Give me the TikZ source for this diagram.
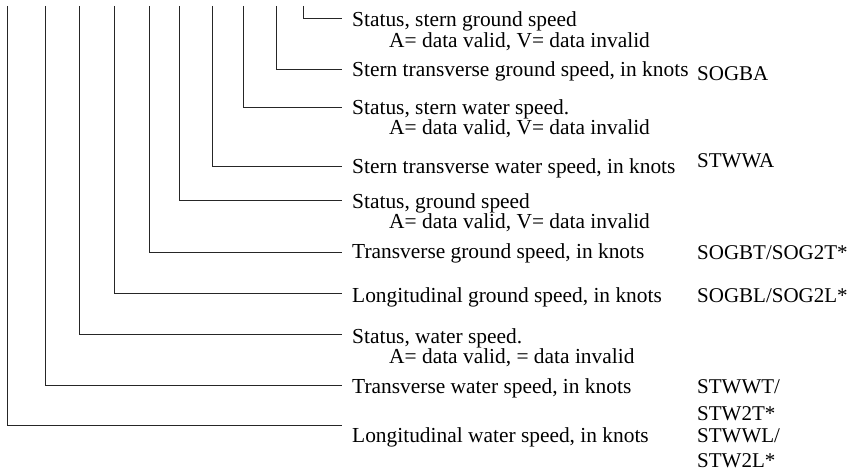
\documentclass[tikz,border=0pt]{standalone}
\usepackage{fontspec}
\setmainfont{Liberation Serif}
\usepackage{tikz}
\usetikzlibrary{positioning}
\usetikzlibrary{calc}

\begin{document}
\begin{tikzpicture}[x=1pt,y=-1pt]
\tikzstyle{desc} =[anchor=base west,inner sep=0pt,font=\fontsize{21.4}{22}\selectfont]
\tikzstyle{code} =[anchor=base west,inner sep=0pt,font=\fontsize{21}{22}\selectfont]
\tikzstyle{wire} =[draw=black!85,line width=0.9pt]
\useasboundingbox (0,0) rectangle (858,470);

% field descriptions
\node[desc](sgstat) at (352,27){Status, stern ground speed};
\node[desc](sgstatv) at (389,48){A= data valid, V= data invalid};
\node[desc](sgtrans) at (352,77){Stern transverse ground speed, in knots};
\node[desc](swstat) at (352,115){Status, stern water speed.};
\node[desc](swstatv) at (389,135){A= data valid, V= data invalid};
\node[desc](swtrans) at (352,174){Stern transverse water speed, in knots};
\node[desc](gstat) at (352,208){Status, ground speed};
\node[desc](gstatv) at (389,228){A= data valid, V= data invalid};
\node[desc](gtrans) at (352,258){Transverse ground speed, in knots};
\node[desc](glong) at (352,302){Longitudinal ground speed, in knots};
\node[desc](wstat) at (352,343){Status, water speed.};
\node[desc](wstatv) at (389,363){A= data valid, = data invalid};
\node[desc](wtrans) at (352,393){Transverse water speed, in knots};
\node[desc](wlong) at (352,442){Longitudinal water speed, in knots};

% sentence names
\node[code](sogba) at (697,81){SOGBA};
\node[code](stwwa) at (697,168){STWWA};
\node[code](sogbt) at (697,259){SOGBT/SOG2T*};
\node[code](sogbl) at (697,302){SOGBL/SOG2L*};
\node[code](stwwt) at (697,393){STWWT/};
\node[code](stw2t) at (697,420){STW2T*};
\node[code](stwwl) at (697,442){STWWL/};
\node[code](stw2l) at (697,467){STW2L*};

% leader lines
\coordinate (f1) at (303,6);
\coordinate (f2) at (276,6);
\coordinate (f3) at (243,6);
\coordinate (f4) at (212,6);
\coordinate (f5) at (179,6);
\coordinate (f6) at (149,6);
\coordinate (f7) at (114,6);
\coordinate (f8) at (79,6);
\coordinate (f9) at (45,6);
\coordinate (f10) at (7,6);

\draw[wire] (f1) |- ($(sgstat.base west)+(-10,-9)$);
\draw[wire] (f2) |- ($(sgtrans.base west)+(-10,-8)$);
\draw[wire] (f3) |- ($(swstat.base west)+(-10,-8)$);
\draw[wire] (f4) |- ($(swtrans.base west)+(-10,-8)$);
\draw[wire] (f5) |- ($(gstat.base west)+(-10,-8)$);
\draw[wire] (f6) |- ($(gtrans.base west)+(-10,-6)$);
\draw[wire] (f7) |- ($(glong.base west)+(-10,-9)$);
\draw[wire] (f8) |- ($(wstat.base west)+(-10,-9)$);
\draw[wire] (f9) |- ($(wtrans.base west)+(-10,-8)$);
\draw[wire] (f10) |- ($(wlong.base west)+(-10,-17)$);
\end{tikzpicture}
\end{document}
